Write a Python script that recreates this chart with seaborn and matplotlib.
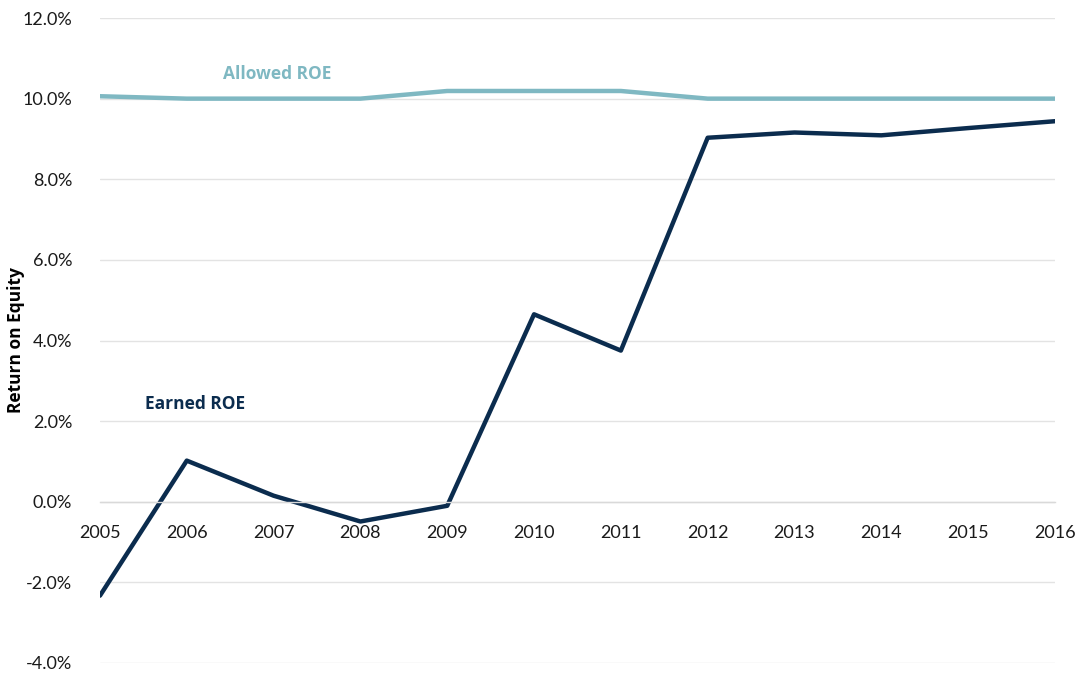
import matplotlib
matplotlib.use("Agg")
import matplotlib.pyplot as plt
import seaborn as sns
import pandas as pd
from matplotlib.ticker import FuncFormatter

years = [2005, 2006, 2007, 2008, 2009, 2010, 2011, 2012, 2013, 2014, 2015, 2016]
earned_roe = [-2.33, 1.02, 0.15, -0.49, -0.10, 4.65, 3.75, 9.03, 9.16, 9.09, 9.27, 9.44]
allowed_roe = [10.06, 10.0, 10.0, 10.0, 10.19, 10.19, 10.19, 10.0, 10.0, 10.0, 10.0, 10.0]
y_ticks = [-4, -2, 0, 2, 4, 6, 8, 10, 12]

sns.set_style("white")
plt.rcParams['font.family'] = ['Lato', 'DejaVu Sans']

df = pd.DataFrame({
    "Year": years * 2,
    "ROE": earned_roe + allowed_roe,
    "Series": ["Earned ROE"] * len(years) + ["Allowed ROE"] * len(years),
})

fig = plt.figure(figsize=(10.83, 6.75), dpi=100)
ax = fig.add_axes([0.0923, 0.0178, 0.8818, 0.9555])

palette = {"Earned ROE": "#0b2c4e", "Allowed ROE": "#7fb8c2"}
sns.lineplot(data=df, x="Year", y="ROE", hue="Series", palette=palette,
             linewidth=3.2, ax=ax, legend=False, sort=False)

ax.set_xlim(2005, 2016)
ax.set_ylim(-4, 12)
ax.set_yticks(y_ticks)
ax.yaxis.set_major_formatter(FuncFormatter(lambda v, p: f"{v:.1f}%"))
ax.set_xticks(years)
ax.set_xticklabels([str(y) for y in years])

ax.grid(axis="y", color="#e3e3e3", linewidth=1.0)
ax.set_axisbelow(True)
for s in ["top", "right", "left"]:
    ax.spines[s].set_visible(False)
ax.spines["bottom"].set_position(("data", 0))
ax.spines["bottom"].set_color("#d9d9d9")
ax.spines["bottom"].set_linewidth(1.0)
ax.tick_params(axis="x", which="major", direction="out", length=6, color="#d9d9d9",
               labelsize=13, labelcolor="#1a1a1a", pad=11)
ax.tick_params(axis="y", length=0, labelsize=13, labelcolor="#1a1a1a", pad=20)

ax.set_xlabel("")
ax.set_ylabel("Return on Equity", fontsize=12.5, fontweight="bold", color="#000000",
              family=["Open Sans", "DejaVu Sans"])
ax.yaxis.set_label_coords(-0.078, 0.5)

ax.text(2007.04, 10.62, "Allowed ROE", color="#7fb8c2", fontsize=12.5, fontweight="bold",
        ha="center", va="center", family=["Open Sans", "DejaVu Sans"])
ax.text(2006.09, 2.43, "Earned ROE", color="#0b2c4e", fontsize=12.5, fontweight="bold",
        ha="center", va="center", family=["Open Sans", "DejaVu Sans"])

fig.savefig("out.png", dpi=100)
